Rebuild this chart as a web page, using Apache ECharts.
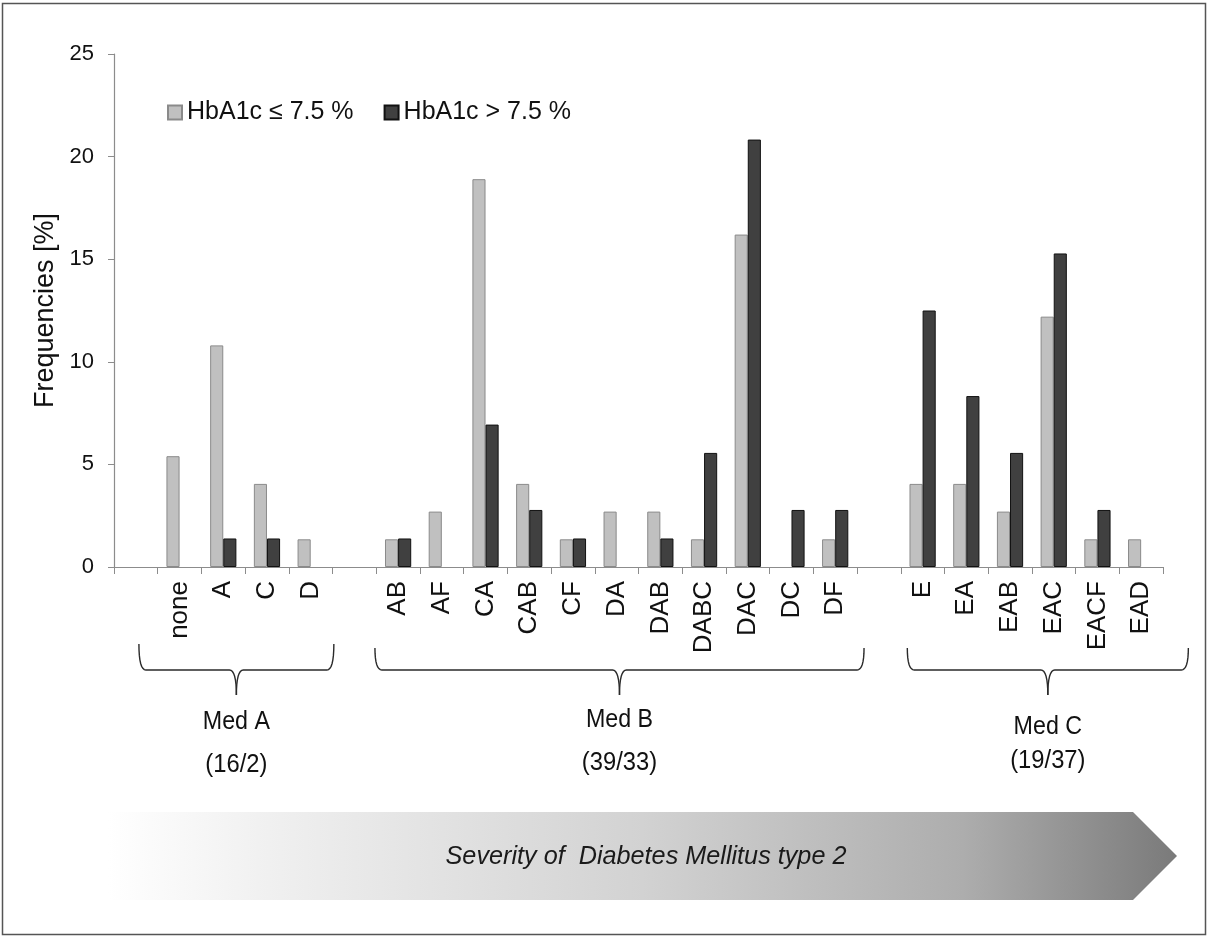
<!DOCTYPE html>
<html><head><meta charset="utf-8">
<script src="https://cdn.jsdelivr.net/npm/echarts@6/dist/echarts.min.js"></script>
<style>html,body{margin:0;padding:0;background:#fff}#c{width:1208px;height:937px}</style>
</head><body><div id="c"></div>
<script>
// categories (blank entries are spacer slots between medication groups)
const categories = [' ', 'none', 'A', 'C', 'D', '  ', 'AB', 'AF', 'CA', 'CAB', 'CF', 'DA', 'DAB', 'DABC', 'DAC', 'DC', 'DF', '   ', 'E', 'EA', 'EAB', 'EAC', 'EACF', 'EAD'];
// HbA1c <= 7.5 %
const lowValues = [null, 5.4, 10.8, 4.05, 1.35, null, 1.35, 2.7, 18.9, 4.05, 1.35, 2.7, 2.7, 1.35, 16.2, 0, 1.35, null, 4.05, 4.05, 2.7, 12.2, 1.35, 1.35];
// HbA1c > 7.5 %
const highValues = [null, 0, 1.39, 1.39, 0, null, 1.39, 0, 6.94, 2.78, 1.39, 0, 1.39, 5.56, 20.83, 2.78, 2.78, null, 12.5, 8.33, 5.56, 15.28, 2.78, 0];
const seriesNames = ['HbA1c \u2264 7.5 %', 'HbA1c > 7.5 %'];
const yTicks = [0, 5, 10, 15, 20, 25];
// medication groups
const groupNames = ['Med A', 'Med B', 'Med C'];
const groupCounts = ['(16/2)', '(39/33)', '(19/37)'];
const groupFirst = ['none', 'AB', 'E'];
const groupLast = ['D', 'DF', 'EAD'];
const arrowText = 'Severity of  Diabetes Mellitus type 2';

const chart = echarts.init(document.getElementById('c'), null, {renderer: 'canvas'});
const FONT = 'Arial, "Liberation Sans", sans-serif';
const toBar = v => (v === 0 ? null : v);

chart.setOption({
  backgroundColor: '#ffffff',
  animation: false,
  textStyle: {fontFamily: FONT},
  grid: {left: 114, right: 45, top: 54, bottom: 370, containLabel: false},
  legend: {
    left: 162, top: 95, itemWidth: 14, itemHeight: 14, itemGap: 30,
    icon: 'rect',
    textStyle: {fontSize: 25, color: '#111', fontFamily: FONT},
    data: seriesNames
  },
  xAxis: {
    type: 'category',
    data: categories,
    boundaryGap: true,
    axisLine: {lineStyle: {color: '#8c8c8c', width: 1.2}},
    axisTick: {show: true, interval: 0, length: 7, lineStyle: {color: '#8c8c8c'}},
    axisLabel: {interval: 0, rotate: 90, fontSize: 26, color: '#111', margin: 14, fontFamily: FONT}
  },
  yAxis: {
    type: 'value', min: yTicks[0], max: yTicks[yTicks.length - 1], interval: 5,
    name: 'Frequencies [%]', nameLocation: 'middle', nameGap: 52, nameRotate: 90,
    nameTextStyle: {fontSize: 27, color: '#111', fontFamily: FONT},
    axisLine: {show: true, lineStyle: {color: '#8c8c8c', width: 1.2}},
    axisTick: {show: true, length: 6, lineStyle: {color: '#8c8c8c'}},
    splitLine: {show: false},
    axisLabel: {fontSize: 22, color: '#111', margin: 20, fontFamily: FONT}
  },
  series: [
    {name: seriesNames[0], type: 'bar', data: lowValues.map(toBar), barGap: '0%', barCategoryGap: '40%',
     itemStyle: {color: '#c0c0c0', borderColor: '#8a8a8a', borderWidth: 1}},
    {name: seriesNames[1], type: 'bar', data: highValues.map(toBar), barGap: '0%', barCategoryGap: '40%',
     itemStyle: {color: '#404040', borderColor: '#111111', borderWidth: 1}}
  ]
});

// annotation geometry (brackets under each medication group)
const bracketExtend = [[0.93, 0.53], [0.53, 0.66], [0.35, 1.08]];
const bracketTop = [644, 648, 648];
const bracketMid = 670;
const bracketTip = 695;
const nameY = [722, 720, 727];
const countY = [765, 763, 761];

const px = c => chart.convertToPixel({xAxisIndex: 0}, c);
const band = px(categories[2]) - px(categories[1]);
const graphics = [];

function quad(p0, p1, p2, n) {
  const out = [];
  for (let k = 0; k <= n; k++) {
    const t = k / n, a = (1 - t) * (1 - t), b = 2 * (1 - t) * t, c = t * t;
    out.push([a * p0[0] + b * p1[0] + c * p2[0], a * p0[1] + b * p1[1] + c * p2[1]]);
  }
  return out;
}

graphics.push({type: 'rect', shape: {x: 2.5, y: 3.5, width: 1203, height: 931},
  style: {fill: 'none', stroke: '#555', lineWidth: 1.5}, silent: true});

groupNames.forEach((g, i) => {
  const x1 = px(groupFirst[i]) - bracketExtend[i][0] * band;
  const x2 = px(groupLast[i]) + bracketExtend[i][1] * band;
  const cx = (x1 + x2) / 2;
  const t = bracketTop[i], m = bracketMid, tp = bracketTip, r = 7;
  const left = quad([x1, t], [x1, m], [x1 + r, m], 8)
    .concat(quad([cx - r, m], [cx, m], [cx, tp], 8));
  const right = quad([cx, tp], [cx, m], [cx + r, m], 8)
    .concat(quad([x2 - r, m], [x2, m], [x2, t], 8));
  [left, right].forEach(pts => graphics.push({type: 'polyline', silent: true, shape: {points: pts},
    style: {fill: 'none', stroke: '#2a2a2a', lineWidth: 1.4}}));
  graphics.push({type: 'text', x: cx, y: nameY[i], scaleX: 0.93,
    style: {text: g, font: '25px ' + FONT, fill: '#111', textAlign: 'center', textVerticalAlign: 'middle'}});
  graphics.push({type: 'text', x: cx, y: countY[i], scaleX: 0.95,
    style: {text: groupCounts[i], font: '25px ' + FONT, fill: '#111', textAlign: 'center', textVerticalAlign: 'middle'}});
});

graphics.push({type: 'polygon', silent: true,
  shape: {points: [[108, 812], [1133, 812], [1177, 856], [1133, 900], [108, 900]]},
  style: {fill: {type: 'linear', x: 0, y: 0, x2: 1, y2: 0, colorStops: [
    {offset: 0, color: '#ffffff'}, {offset: 0.15, color: '#f0f0f0'}, {offset: 0.5, color: '#d2d2d2'},
    {offset: 0.8, color: '#adadad'}, {offset: 1, color: '#7a7a7a'}]}}});
graphics.push({type: 'text', x: 646, y: 857, scaleX: 0.97,
  style: {text: arrowText, font: 'italic 26px ' + FONT, fill: '#1a1a1a', textAlign: 'center', textVerticalAlign: 'middle'}});

chart.setOption({graphic: graphics});
</script></body></html>
